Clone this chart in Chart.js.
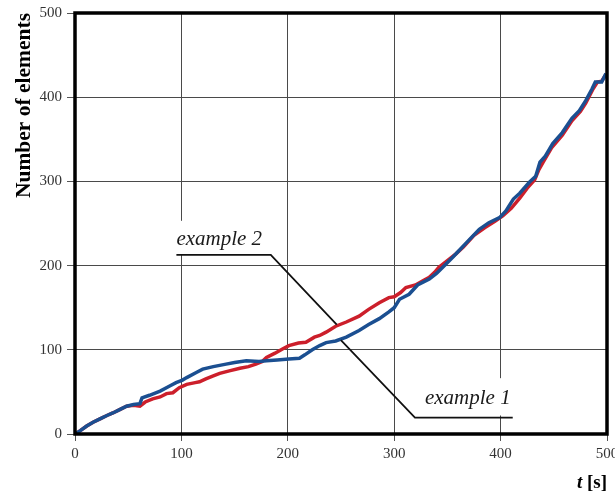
<!DOCTYPE html>
<html>
<head>
<meta charset="utf-8">
<script src="https://cdn.jsdelivr.net/npm/chart.js@4.4.1/dist/chart.umd.min.js"></script>
<style>
  html, body { margin: 0; padding: 0; background: #fff; }
  #wrap { width: 615px; height: 494px; }
</style>
</head>
<body>
<div id="wrap"><canvas id="c" width="615" height="494"></canvas></div>
<script>
// ---- data ----
const tEx1 = [0,5,11,17,23.5,30,35.6,42,48.5,55,61,63,70,80,89,95,101,105,114,120,130,142,150,161,173,180,190,201,211,216,223,230,236,245,255,267,276,286,295,300,305,314,322,333,340,348,355,361,370,380,389,399,405,412,418,427,433,437,442,449,458,467,474,480,486,489,495,499];
const nEx1 = [0,4,9.5,14,18,22,25,29,33,35,36,43,46,51,57,61,64,67,73,77,80,83,85,87,86,87,88,89,90,94,100,105,108.5,110.5,115,123,130,137,145,150,160,166,177,184,191,201,210,218,230,243,251,257,265,279,286,299,306,323,330,345,358,375,384,396,410,418,418,428];
const tEx2 = [0,5,11,17,23.5,30,35.6,42,48.5,55,61,66,73,80,86,92,98,105,113,117,123,130,136,145,155,163,170,176,180,188,195,201,210,217,225,230,236,245,255,267,276,286,295,300,306,311,320,327,333,338,342,350,358,365,375,385,395,402,410,418,425,432,436,440,448,458,467,475,480,487,491,495,499];
const nEx2 = [0,4,9.5,14,18,22,25,29,33,34,33,38,41.7,44,48,49,55,59,61,62,65.5,69,72,75,78,80,83,86,91,96,101,105,108,109,115,117,121,128,133,140,148,156,162,163,168,174,177,182,186,192,198,206,214,222,236,245,253,259,268,280,292,302,314,323,340,355,372,383,393,410,418,419,427];
const seriesNames = ['example 1', 'example 2'];
const xTicks = [0,100,200,300,400,500];
const yTicks = [0,100,200,300,400,500];
const xTitleVar = 't';
const xTitleUnit = '[s]';
const yTitle = 'Number of elements';

const toPts = (t, n) => t.map((v, i) => ({x: v, y: n[i]}));

// annotation geometry (data units)
const annotations = [
  { text: seriesNames[1], at: [95.3, 224.6], box: [91, 185, 212.7, 253.2],
    leader: [[95.3,212.7],[184,212.7],[246,130]] },
  { text: seriesNames[0], at: [328.9, 36.2], box: [324, 416, 22, 66.3],
    leader: [[249.9,111.5],[319.5,19.5],[411.4,19.5]] }
];

const annotPlugin = {
  id: 'annot',
  beforeDatasetsDraw(chart) {
    const {ctx, scales: {x, y}} = chart;
    ctx.save();
    ctx.fillStyle = '#ffffff';
    annotations.forEach(a => {
      const x0 = x.getPixelForValue(a.box[0]), x1 = x.getPixelForValue(a.box[1]);
      const y0 = y.getPixelForValue(a.box[2]), y1 = y.getPixelForValue(a.box[3]);
      ctx.fillRect(x0, y1, x1 - x0, y0 - y1);
    });
    ctx.restore();
  },
  afterDatasetsDraw(chart) {
    const {ctx, chartArea: ca, scales: {x, y}} = chart;
    ctx.save();
    ctx.strokeStyle = '#111';
    ctx.lineWidth = 1.8;
    annotations.forEach(a => {
      ctx.beginPath();
      a.leader.forEach((p, i) => {
        const px = x.getPixelForValue(p[0]), py = y.getPixelForValue(p[1]);
        if (i === 0) ctx.moveTo(px, py); else ctx.lineTo(px, py);
      });
      ctx.stroke();
    });
    ctx.fillStyle = '#1a1a1a';
    ctx.font = 'italic 21px "Liberation Serif", serif';
    ctx.textAlign = 'left';
    ctx.textBaseline = 'alphabetic';
    annotations.forEach(a => {
      ctx.fillText(a.text, x.getPixelForValue(a.at[0]), y.getPixelForValue(a.at[1]));
    });
    ctx.strokeStyle = '#000';
    ctx.lineWidth = 3.5;
    ctx.strokeRect(ca.left, ca.top, ca.right - ca.left, ca.bottom - ca.top);
    ctx.fillStyle = '#000';
    ctx.textAlign = 'right';
    ctx.font = 'bold 19px "Liberation Serif", serif';
    const xr = ca.right;
    const yb = 488;
    ctx.fillText(xTitleUnit, xr, yb);
    const wUnit = ctx.measureText(' ' + xTitleUnit).width;
    ctx.font = 'italic bold 19px "Liberation Serif", serif';
    ctx.fillText(xTitleVar, xr - wUnit, yb);
    ctx.restore();
  }
};

new Chart(document.getElementById('c'), {
  type: 'line',
  data: {
    datasets: [
      { label: seriesNames[0], data: toPts(tEx1, nEx1), borderColor: '#1b4f91',
        borderWidth: 3.5, pointRadius: 0, tension: 0, fill: false },
      { label: seriesNames[1], data: toPts(tEx2, nEx2), borderColor: '#cc1f2b',
        borderWidth: 3.5, pointRadius: 0, tension: 0, fill: false }
    ]
  },
  options: {
    responsive: false,
    animation: false,
    events: [],
    layout: { padding: { top: 13, right: 8, left: 0, bottom: 0 } },
    plugins: { legend: { display: false }, tooltip: { enabled: false } },
    scales: {
      x: {
        type: 'linear', min: xTicks[0], max: xTicks[xTicks.length - 1],
        afterBuildTicks: s => { s.ticks = xTicks.map(v => ({value: v})); },
        afterFit: s => { s.height = 60; s.paddingRight = 0; s.paddingLeft = 0; },
        grid: { color: '#4a4a4a', lineWidth: 1, drawTicks: true, tickLength: 7, tickColor: '#555' },
        border: { display: false },
        ticks: { color: '#333', padding: 4, font: { family: '"Liberation Serif", serif', size: 15 }, maxRotation: 0, autoSkip: false }
      },
      y: {
        type: 'linear', min: yTicks[0], max: yTicks[yTicks.length - 1],
        afterBuildTicks: s => { s.ticks = yTicks.map(v => ({value: v})); },
        afterFit: s => { s.width = 75; s.paddingTop = 0; s.paddingBottom = 0; },
        grid: { color: '#4a4a4a', lineWidth: 1, drawTicks: true, tickLength: 8, tickColor: '#555' },
        border: { display: false },
        ticks: { color: '#333', padding: 5, font: { family: '"Liberation Serif", serif', size: 15 }, autoSkip: false },
        title: { display: true, text: yTitle, align: 'end', color: '#000',
          font: { family: '"Liberation Serif", serif', size: 21.5, weight: 'bold' },
          padding: { top: 12, bottom: 0 } }
      }
    }
  },
  plugins: [annotPlugin]
});
</script>
</body>
</html>
